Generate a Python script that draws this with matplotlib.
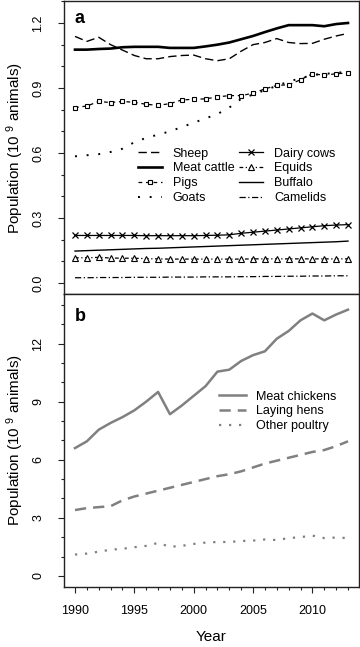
import matplotlib
matplotlib.use("Agg")
import matplotlib.pyplot as plt
from matplotlib.ticker import MultipleLocator, FormatStrFormatter

plt.rcParams['font.family'] = ['Liberation Sans', 'DejaVu Sans']
plt.rcParams['mathtext.fontset'] = 'custom'
plt.rcParams['mathtext.rm'] = 'Liberation Sans'
plt.rcParams['mathtext.it'] = 'Liberation Sans'

years = list(range(1990, 2014))

# panel a, 10^9 animals
sheep = [1.138, 1.115, 1.134, 1.10, 1.075, 1.05, 1.035, 1.035, 1.045, 1.05, 1.052, 1.035,
         1.026, 1.035, 1.07, 1.10, 1.11, 1.128, 1.11, 1.105, 1.106, 1.125, 1.14, 1.152]
meat_cattle = [1.077, 1.077, 1.08, 1.082, 1.088, 1.09, 1.09, 1.09, 1.085, 1.085, 1.085, 1.092,
               1.10, 1.11, 1.125, 1.14, 1.158, 1.175, 1.19, 1.19, 1.19, 1.185, 1.195, 1.20]
pigs = [0.81, 0.817, 0.838, 0.833, 0.838, 0.834, 0.825, 0.82, 0.828, 0.845, 0.848, 0.85,
        0.859, 0.865, 0.865, 0.876, 0.896, 0.912, 0.915, 0.938, 0.966, 0.959, 0.966, 0.969]
goats = [0.585, 0.59, 0.595, 0.605, 0.62, 0.65, 0.67, 0.685, 0.70, 0.72, 0.74, 0.76,
         0.78, 0.81, 0.85, 0.87, 0.89, 0.91, 0.93, 0.945, 0.96, 0.965, 0.97, 0.975]
dairy_cows = [0.22, 0.22, 0.22, 0.22, 0.22, 0.22, 0.219, 0.219, 0.219, 0.219, 0.219, 0.22,
              0.221, 0.223, 0.23, 0.235, 0.24, 0.245, 0.25, 0.255, 0.26, 0.265, 0.268, 0.27]
equids = [0.117, 0.117, 0.119, 0.116, 0.115, 0.115, 0.113, 0.112, 0.111, 0.111, 0.111, 0.111,
          0.111, 0.111, 0.111, 0.112, 0.112, 0.112, 0.112, 0.112, 0.112, 0.112, 0.112, 0.112]
buffalo = [0.148, 0.15, 0.152, 0.154, 0.156, 0.158, 0.16, 0.161, 0.163, 0.165, 0.167, 0.169,
           0.171, 0.173, 0.175, 0.177, 0.179, 0.181, 0.183, 0.185, 0.187, 0.189, 0.191, 0.194]
camelids = [0.025, 0.025, 0.026, 0.026, 0.026, 0.027, 0.027, 0.027, 0.028, 0.028, 0.028, 0.029,
            0.029, 0.029, 0.030, 0.030, 0.031, 0.031, 0.032, 0.032, 0.033, 0.033, 0.034, 0.034]

# panel b
meat_chickens = [6.6, 6.95, 7.55, 7.9, 8.2, 8.55, 9.0, 9.5, 8.35, 8.8, 9.3, 9.8,
                 10.55, 10.65, 11.1, 11.4, 11.6, 12.25, 12.65, 13.2, 13.55, 13.2, 13.5, 13.75]
laying_hens = [3.4, 3.5, 3.55, 3.6, 3.9, 4.1, 4.25, 4.4, 4.55, 4.7, 4.85, 5.0,
               5.15, 5.25, 5.4, 5.6, 5.8, 5.95, 6.1, 6.25, 6.4, 6.5, 6.7, 6.95]
other_poultry = [1.1, 1.15, 1.25, 1.35, 1.4, 1.48, 1.55, 1.7, 1.5, 1.55, 1.65, 1.72,
                 1.75, 1.75, 1.8, 1.82, 1.88, 1.85, 1.95, 2.0, 2.08, 1.95, 1.98, 1.95]

ylab = r'Population (10 $^{9}$ animals)'
grey = '#808080'

fig = plt.figure(figsize=(3.6, 6.47), dpi=100)
ax1 = fig.add_axes([0.178, 0.5456, 0.819, 0.4524])
ax2 = fig.add_axes([0.178, 0.0932, 0.819, 0.4524])

ax1.plot(years, sheep, color='k', lw=1.0, ls=(0, (6, 3)), label='Sheep')
ax1.plot(years, meat_cattle, color='k', lw=1.9, label='Meat cattle')
ax1.plot(years, pigs, color='k', lw=0.9, ls=(0, (3, 3)), marker='s', ms=3.2,
         mfc='white', mew=0.8, label='Pigs')
ax1.plot(years, goats, color='k', lw=1.4, ls=(0, (1, 5)), label='Goats')
ax1.plot(years, dairy_cows, color='k', lw=0.9, marker='x', ms=4.5, mew=0.9, label='Dairy cows')
ax1.plot(years, equids, color='k', lw=0.9, ls=(0, (3, 2, 1, 2)), marker='^', ms=4,
         mfc='white', mew=0.8, label='Equids')
ax1.plot(years, buffalo, color='k', lw=1.0, label='Buffalo')
ax1.plot(years, camelids, color='k', lw=0.9, ls=(0, (5, 2, 1, 2)), label='Camelids')

ax2.plot(years, meat_chickens, color=grey, lw=1.8, label='Meat chickens')
ax2.plot(years, laying_hens, color=grey, lw=1.8, ls=(0, (4.5, 2.8)), label='Laying hens')
ax2.plot(years, other_poultry, color=grey, lw=1.6, ls=(0, (1, 3.5)), label='Other poultry')

ax1.set_ylim(-0.05, 1.30)
ax2.set_ylim(-0.56, 14.56)
ax1.yaxis.set_major_locator(MultipleLocator(0.3))
ax1.yaxis.set_minor_locator(MultipleLocator(0.1))
ax1.yaxis.set_major_formatter(FormatStrFormatter('%.1f'))
ax1.tick_params(axis='x', labelbottom=False)
ax2.yaxis.set_major_locator(MultipleLocator(3))
ax2.yaxis.set_minor_locator(MultipleLocator(1))

for ax in (ax1, ax2):
    ax.set_xlim(1989.08, 2013.92)
    ax.xaxis.set_major_locator(MultipleLocator(5))
    ax.xaxis.set_minor_locator(MultipleLocator(1))
    ax.tick_params(which='both', direction='out', top=False, right=False,
                   labelsize=9, color='#222222')
    ax.tick_params(which='major', length=4.3, width=0.8)
    ax.tick_params(which='minor', length=2.2, width=0.8)
    ax.tick_params(axis='y', pad=10)
    ax.tick_params(axis='x', pad=9)
    for sp in ax.spines.values():
        sp.set_linewidth(1.0)
        sp.set_color('#222222')
    ax.set_ylabel(ylab, fontsize=11)
    ax.yaxis.set_label_coords(-0.128, 0.5)
    for t in ax.get_yticklabels():
        t.set_rotation(90)
        t.set_va('center')

ax2.set_xlabel('Year', fontsize=11)
ax2.xaxis.set_label_coords(0.5, -0.148)

ax1.text(0.035, 0.942, 'a', transform=ax1.transAxes, fontsize=13, fontweight='bold',
         va='center', ha='left')
ax2.text(0.035, 0.922, 'b', transform=ax2.transAxes, fontsize=13, fontweight='bold',
         va='center', ha='left')

ax1.legend(loc='upper left', bbox_to_anchor=(0.25, 0.50), ncol=2, frameon=False,
           fontsize=9, handlelength=1.9, handletextpad=0.9, columnspacing=0.4,
           labelspacing=0.22, borderpad=0, borderaxespad=0)
ax2.legend(loc='upper left', bbox_to_anchor=(0.525, 0.67), frameon=False,
           fontsize=9, handlelength=2.2, handletextpad=0.8,
           labelspacing=0.22, borderpad=0, borderaxespad=0)

fig.savefig('out.png', dpi=100)
